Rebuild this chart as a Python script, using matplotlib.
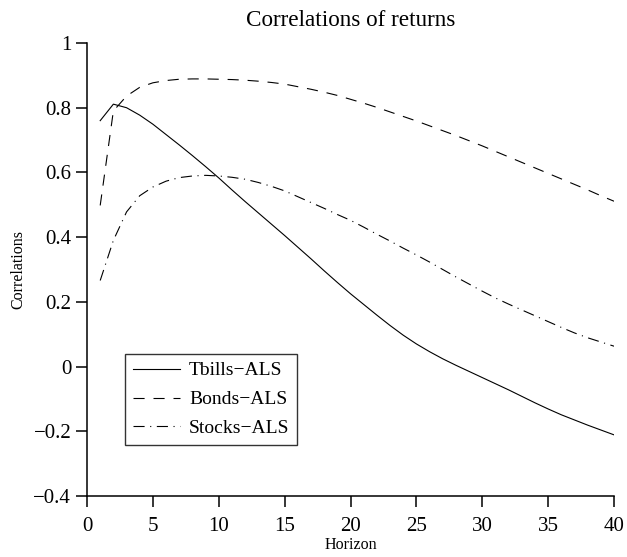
import matplotlib
matplotlib.use("Agg")
import matplotlib.pyplot as plt

plt.rcParams['font.family'] = ['Liberation Serif', 'DejaVu Serif']

horizon = list(range(1, 41))
tbills = [0.760, 0.811, 0.800, 0.777, 0.749, 0.717, 0.685, 0.652, 0.618, 0.583,
          0.546, 0.510, 0.475, 0.440, 0.405, 0.369, 0.333, 0.296, 0.260, 0.225,
          0.192, 0.159, 0.127, 0.097, 0.070, 0.046, 0.024, 0.004, -0.015, -0.034,
          -0.053, -0.072, -0.092, -0.112, -0.131, -0.149, -0.165, -0.181, -0.196, -0.211]
bonds = [0.498, 0.790, 0.836, 0.863, 0.877, 0.884, 0.888, 0.889, 0.889, 0.888,
         0.887, 0.885, 0.882, 0.878, 0.873, 0.865, 0.857, 0.848, 0.838, 0.826,
         0.814, 0.801, 0.787, 0.773, 0.759, 0.744, 0.729, 0.714, 0.698, 0.682,
         0.665, 0.648, 0.631, 0.614, 0.597, 0.580, 0.563, 0.546, 0.528, 0.511]
stocks = [0.266, 0.390, 0.478, 0.528, 0.555, 0.573, 0.584, 0.589, 0.591, 0.589,
          0.585, 0.579, 0.569, 0.557, 0.543, 0.525, 0.507, 0.489, 0.470, 0.452,
          0.431, 0.409, 0.388, 0.366, 0.345, 0.323, 0.300, 0.277, 0.255, 0.233,
          0.212, 0.193, 0.175, 0.157, 0.139, 0.121, 0.104, 0.089, 0.076, 0.063]
labels = ['Tbills\u2212ALS', 'Bonds\u2212ALS', 'Stocks\u2212ALS']
xticks = [0, 5, 10, 15, 20, 25, 30, 35, 40]
yticks = [-0.4, -0.2, 0, 0.2, 0.4, 0.6, 0.8, 1]
ytick_labels = ['\u22120.4', '\u22120.2', '0', '0.2', '0.4', '0.6', '0.8', '1']

fig = plt.figure(figsize=(6.27, 5.57), dpi=100)
ax = fig.add_axes([0.1388, 0.1095, 0.9793 - 0.1388, 0.9228 - 0.1095])

ax.plot(horizon, tbills, color='black', lw=0.8, linestyle='-', label=labels[0])
ax.plot(horizon, bonds, color='black', lw=0.8, linestyle=(0, (10, 8)), label=labels[1])
ax.plot(horizon, stocks, color='black', lw=0.8, linestyle=(0, (10, 5, 1, 5)), label=labels[2])

ax.set_xlim(0, 40)
ax.set_ylim(-0.4, 1)
ax.set_xticks(xticks)
ax.set_xticklabels([str(t) for t in xticks])
ax.set_yticks(yticks)
ax.set_yticklabels(ytick_labels)

for s in ['top', 'right']:
    ax.spines[s].set_visible(False)
for s in ['left', 'bottom']:
    ax.spines[s].set_linewidth(1.1)
ax.tick_params(direction='out', length=7.8, width=1.1, labelsize=15)
ax.tick_params(axis='x', pad=7)
ax.tick_params(axis='y', pad=3.5)

ax.set_title('Correlations of returns', fontsize=16.7, pad=12)
ax.set_xlabel('Horizon', fontsize=11.5, labelpad=1)
ax.set_ylabel('Correlations', fontsize=11.5, labelpad=5)

leg = ax.legend(loc='lower left', bbox_to_anchor=(0.072, 0.1126), borderaxespad=0,
                fontsize=14, frameon=True, fancybox=False, handlelength=2.45,
                handletextpad=0.45, labelspacing=0.58, borderpad=0.4)
leg.get_frame().set_edgecolor('black')
leg.get_frame().set_linewidth(1.0)

fig.savefig('out.png', dpi=100)
